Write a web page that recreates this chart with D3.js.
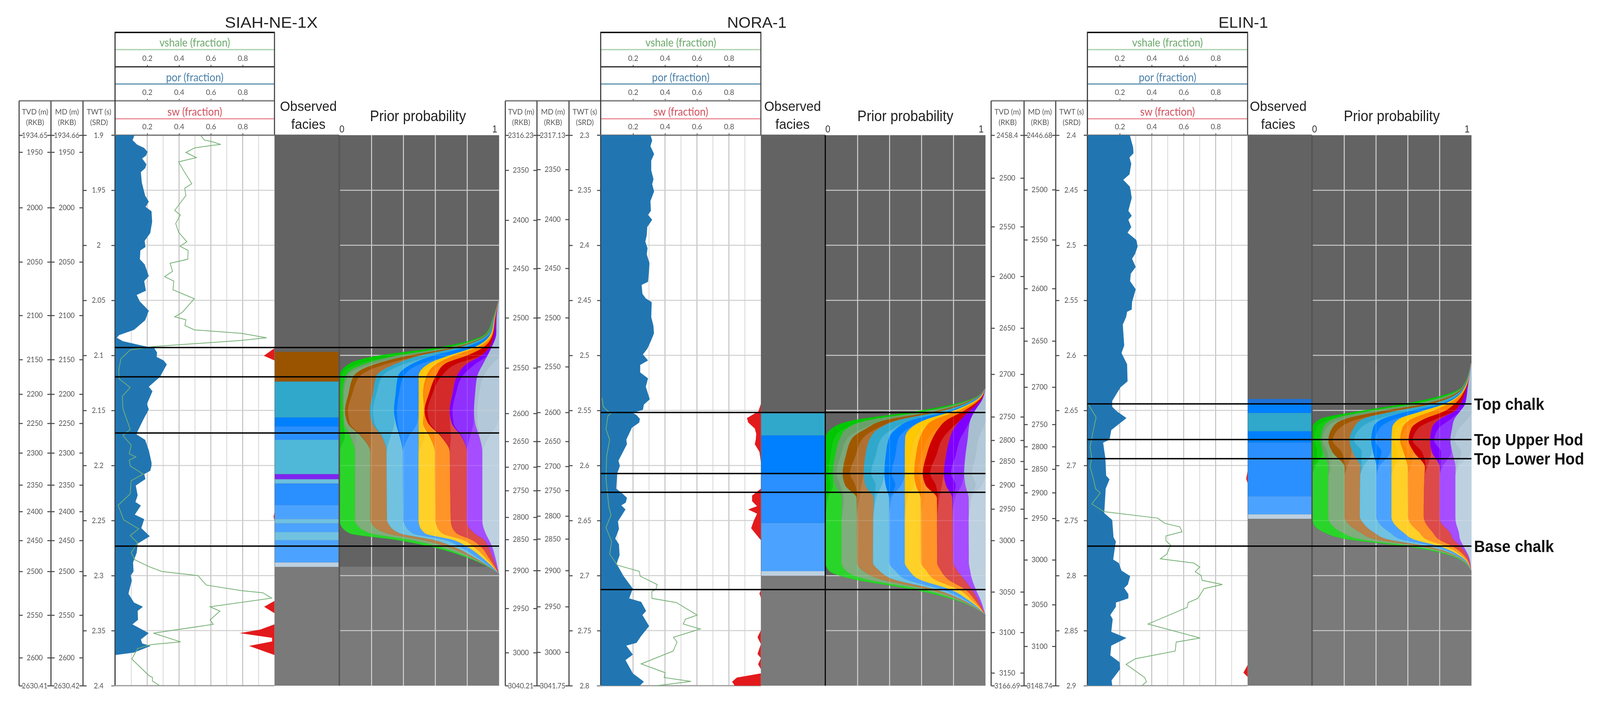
<!DOCTYPE html>
<html>
<head>
<meta charset="utf-8">
<script src="https://cdn.jsdelivr.net/npm/d3@7"></script>
<style>
  html, body { margin: 0; height: 100%; background: #fff; overflow: hidden; }
  svg { display: block; width: 100vw; height: 100vh; filter: blur(0.7px); }
  text { font-family: Lato, sans-serif; }
  .arial { font-family: "Liberation Sans", Arial, sans-serif; }
</style>
</head>
<body>
<svg id="chart" viewBox="0 0 4395 1807" preserveAspectRatio="none"></svg>
<script>
// facies colours, one shade per zone (chalk top, upper hod, lower hod)
const faciesDark  = ['#00c800', '#69a069', '#a05800', '#30a8cc', '#0080ff', '#ffc800', '#ff8400', '#cc0000', '#8000ff', '#a8bfd0']
const faciesMid   = ['#12cc12', '#7aa878', '#b07030', '#4db5d8', '#2a8fff', '#ffc915', '#ff8c10', '#d42a2a', '#9030ff', '#b3c8d8']
const faciesLight = ['#2ad52a', '#7fae7c', '#b8824a', '#70c2e0', '#4ca3ff', '#ffd028', '#ff9428', '#dc4a4a', '#a54dff', '#bdd0e0']

const curveTicks = [0.2, 0.4, 0.6, 0.8]
const curveGrid = [0.1, 0.2, 0.3, 0.4, 0.5, 0.6, 0.7, 0.8, 0.9]
const priorGrid = [0.2, 0.4, 0.6, 0.8]

// ---- SIAH-NE-1X ----
const siahTwtTicks = [1.9, 1.95, 2, 2.05, 2.1, 2.15, 2.2, 2.25, 2.3, 2.35, 2.4]
const siahTvd = [1934.65, 1950, 2000, 2050, 2100, 2150, 2200, 2250, 2300, 2350, 2400, 2450, 2500, 2550, 2600, 2630.41]
const siahTvdTwt = [1.9, 1.9154, 1.9658, 2.0151, 2.0637, 2.1038, 2.1352, 2.1617, 2.1886, 2.2177, 2.2418, 2.2681, 2.2962, 2.3359, 2.3746, 2.4]
const siahMd = [1934.66, 1950, 2000, 2050, 2100, 2150, 2200, 2250, 2300, 2350, 2400, 2450, 2500, 2550, 2600, 2630.42]
const siahTops = [2.0929, 2.1195, 2.1705, 2.2732]
const siahPor = [[1.9,.12],[1.9045,.108],[1.9086,.137],[1.9115,.18],[1.9151,.202],[1.9186,.192],[1.9211,.168],[1.9264,.195],[1.9299,.188],[1.9335,.16],[1.943,.166],[1.9548,.187],[1.9603,.21],[1.9651,.19],[1.9691,.227],[1.9786,.231],[1.9889,.219],[1.996,.184],[2.0016,.189],[2.0047,.157],[2.0127,.154],[2.0174,.184],[2.028,.21],[2.0325,.181],[2.0412,.192],[2.0451,.134],[2.0507,.152],[2.0594,.21],[2.0681,.187],[2.0768,.117],[2.0816,.023],[2.084,.009],[2.0871,.047],[2.0914,.175],[2.0935,.245],[2.0975,.262],[2.1014,.259],[2.1046,.303],[2.1082,.323],[2.1196,.28],[2.1284,.21],[2.1326,.233],[2.1442,.198],[2.149,.21],[2.1585,.175],[2.1688,.14],[2.1719,.134],[2.1767,.187],[2.1862,.21],[2.1973,.227],[2.2004,.227],[2.2048,.219],[2.2078,.181],[2.2123,.189],[2.2182,.128],[2.2271,.14],[2.2331,.126],[2.2364,.16],[2.2447,.122],[2.2487,.181],[2.2569,.163],[2.2643,.216],[2.271,.14],[2.2792,.134],[2.2881,.111],[2.2963,.114],[2.3,.096],[2.3045,.103],[2.3164,.082],[2.3245,.117],[2.3283,.173],[2.332,.14],[2.3402,.142],[2.3443,.107],[2.3523,.21],[2.358,.16],[2.3617,.169],[2.3639,.222],[2.3699,.117],[2.3721,0],[2.4,0]]
const siahVsh = [[1.9,.534],[1.9045,.56],[1.9057,.603],[1.9084,.662],[1.9092,.611],[1.9115,.499],[1.9157,.443],[1.9204,.509],[1.9242,.397],[1.9322,.429],[1.9441,.48],[1.9482,.436],[1.9548,.443],[1.9683,.373],[1.9726,.408],[1.9802,.379],[1.9881,.397],[1.9968,.449],[2.0008,.406],[2.0047,.457],[2.0127,.455],[2.0163,.344],[2.0237,.359],[2.0285,.309],[2.0325,.367],[2.0404,.362],[2.0486,.496],[2.061,.42],[2.065,.373],[2.0676,.443],[2.0729,.437],[2.0768,.496],[2.08,.793],[2.084,.95],[2.0864,.793],[2.0919,.245],[2.0951,.093],[2.103,.035],[2.1133,.021],[2.1212,.023],[2.1292,.093],[2.1371,.044],[2.1482,.047],[2.1672,.093],[2.1727,.047],[2.1815,.099],[2.1894,.087],[2.1922,.128],[2.1952,.087],[2.2004,.093],[2.2078,.175],[2.2138,.099],[2.2257,.093],[2.2361,.017],[2.2494,.052],[2.2576,.146],[2.2636,.093],[2.2703,.14],[2.2792,.099],[2.2856,.122],[2.2918,.21],[2.2963,.292],[2.3,.519],[2.3086,.571],[2.3137,.793],[2.3156,.927],[2.3205,.982],[2.3283,.595],[2.3323,.657],[2.3402,.595],[2.3443,.615],[2.3523,.239],[2.3602,.41],[2.3627,.222],[2.3662,.14],[2.3758,.103],[2.3907,.21],[2.3925,.233],[2.3959,.233],[2.4,.28]]
const siahSw = [[1.9,1],[2.0935,1],[2.1003,.933],[2.1046,1],[2.2427,1],[2.2465,.994],[2.2502,1],[2.323,1],[2.3283,.935],[2.3342,1],[2.3443,1],[2.3491,.91],[2.3523,.781],[2.3565,.985],[2.3598,.985],[2.3639,.84],[2.3721,1],[2.4,1]]
const siahFaciesTwt = [2.0968, 2.1238, 2.1564, 2.1646, 2.1767, 2.2079, 2.2125, 2.2164, 2.236, 2.2487, 2.2526, 2.2605, 2.2679, 2.2881, 2.2921]
const siahFaciesCol = ['#9a5400', '#30a8cc', '#0080ff', '#2a8fff', '#4fb7d8', '#7f24f0', '#6cc0dd', '#2a8fff', '#4ca3ff', '#70c2e0', '#4ca3ff', '#70c2e0', '#4ca3ff', '#bdd0e0']
const siahPriorTwt = [2.0504, 2.0677, 2.08, 2.0932, 2.1004, 2.1075, 2.1187, 2.135, 2.1503, 2.1615, 2.1737, 2.188, 2.2491, 2.2532, 2.2614, 2.2675, 2.2736, 2.2838, 2.298]
// left edge of the stack, then the left edge of each following facies
const siahPriorEdges = [
  [.996,.996,.997,.997,.998,.998,.998,.999,.999,.999],
  [.957,.959,.962,.964,.967,.969,.972,.974,.978,.984],
  [.916,.922,.927,.932,.942,.949,.957,.962,.969,.983],
  [.601,.662,.703,.733,.774,.835,.855,.896,.937,.952],
  [.234,.356,.428,.499,.58,.682,.713,.794,.886,.927],
  [.061,.163,.234,.356,.458,.56,.611,.662,.799,.901],
  [0,.038,.089,.231,.367,.496,.545,.604,.736,.864],
  [0,.02,.056,.209,.351,.496,.524,.56,.708,.85],
  [0,.022,.034,.19,.341,.496,.53,.533,.69,.843],
  [0,.027,.051,.206,.353,.496,.524,.555,.703,.85],
  [0,.066,.137,.265,.377,.496,.565,.636,.764,.876],
  [0,.097,.193,.295,.397,.496,.598,.692,.799,.896],
  [0,.097,.193,.298,.4,.496,.601,.698,.799,.896],
  [.005,.107,.204,.308,.409,.499,.606,.701,.802,.898],
  [.061,.193,.295,.377,.458,.535,.642,.733,.845,.916],
  [.356,.448,.519,.591,.662,.713,.774,.83,.906,.937],
  [.57,.621,.672,.713,.754,.799,.84,.886,.932,.957],
  [.804,.82,.835,.85,.868,.896,.916,.937,.962,.978],
  [.998,.998,.998,.998,.999,.999,.999,.999,.999,.999]
]
const siahDarkShare = [1, 1, 1, 1, 1, .55, .28, .15, .12, .08, .03, 0, 0, 0, 0, 0, 0, 0, 0]
const siahMidShare  = [0, 0, 0, 0, 0, .45, .72, .85, .88, .85, .45, 0, 0, 0, 0, 0, 0, 0, 0]

// ---- NORA-1 ----
const noraTwtTicks = [2.3, 2.35, 2.4, 2.45, 2.5, 2.55, 2.6, 2.65, 2.7, 2.75, 2.8]
const noraTvd = [2316.23, 2350, 2400, 2450, 2500, 2550, 2600, 2650, 2700, 2750, 2800, 2850, 2900, 2950, 3000, 3040.21]
const noraTvdTwt = [2.3, 2.3318, 2.3772, 2.4212, 2.4659, 2.5114, 2.5527, 2.5781, 2.6014, 2.6228, 2.647, 2.6672, 2.6954, 2.7298, 2.77, 2.8]
const noraMd = [2317.13, 2350, 2400, 2450, 2500, 2550, 2600, 2650, 2700, 2750, 2800, 2850, 2900, 2950, 3000, 3041.75]
const noraMdTwt = [2.3, 2.3311, 2.3765, 2.4209, 2.4658, 2.5103, 2.5518, 2.5781, 2.6008, 2.6227, 2.6459, 2.6667, 2.6954, 2.7282, 2.7696, 2.8]
const noraTops = [2.5519, 2.6073, 2.6243, 2.7127]
const noraPor = [[2.3,.309],[2.3047,.32],[2.3099,.309],[2.3172,.332],[2.3231,.314],[2.3319,.314],[2.34,.328],[2.3445,.32],[2.3511,.332],[2.3599,.309],[2.3687,.312],[2.3724,.294],[2.3768,.32],[2.3835,.289],[2.3908,.286],[2.3967,.277],[2.4026,.291],[2.4081,.286],[2.4163,.303],[2.4285,.297],[2.4332,.294],[2.436,.254],[2.4441,.259],[2.4482,.28],[2.4516,.317],[2.4652,.314],[2.4733,.328],[2.4801,.331],[2.4862,.314],[2.4937,.291],[2.4992,.262],[2.5046,.294],[2.5087,.245],[2.5155,.245],[2.5209,.294],[2.5284,.28],[2.5399,.305],[2.5447,.268],[2.5494,.262],[2.5522,.199],[2.5542,.222],[2.5576,.243],[2.561,.239],[2.5657,.193],[2.5766,.158],[2.5807,.162],[2.5956,.109],[2.6004,.118],[2.6073,.101],[2.6211,.095],[2.6249,.129],[2.6293,.162],[2.6337,.155],[2.6362,.127],[2.64,.153],[2.6507,.106],[2.6577,.112],[2.6665,.089],[2.6715,.112],[2.6816,.116],[2.6892,.097],[2.7005,.141],[2.7119,.199],[2.7207,.176],[2.7239,.251],[2.7321,.282],[2.7359,.259],[2.7459,.301],[2.7548,.251],[2.7611,.222],[2.7636,.158],[2.7718,.199],[2.7768,.153],[2.7888,.199],[2.7964,.268],[2.8,.243]]
const noraVsh = [[2.5386,.006],[2.5467,.014],[2.5528,.06],[2.5549,.043],[2.5671,.031],[2.5766,.054],[2.5916,.035],[2.612,.031],[2.6211,.037],[2.6375,.049],[2.6451,.062],[2.6564,.031],[2.669,.066],[2.6804,.054],[2.6905,.101],[2.6961,.239],[2.7005,.245],[2.7081,.351],[2.7125,.343],[2.7144,.318],[2.7207,.318],[2.7245,.471],[2.7359,.601],[2.7396,.528],[2.744,.514],[2.7485,.621],[2.756,.453],[2.7604,.476],[2.7686,.451],[2.7802,.251],[2.7882,.401],[2.7926,.395],[2.7961,.563],[2.8,.349]]
const noraSw = [[2.3,1],[2.544,1],[2.5508,.985],[2.5569,.913],[2.561,.921],[2.5664,.962],[2.5712,.971],[2.5766,.968],[2.5807,.962],[2.5875,.991],[2.597,1],[2.6211,1],[2.6274,.945],[2.6324,.945],[2.6369,.976],[2.64,.921],[2.6438,.976],[2.6501,.956],[2.657,.939],[2.6678,1],[2.7131,1],[2.7163,.991],[2.7201,1],[2.7497,1],[2.756,.979],[2.7623,1],[2.7712,.979],[2.7749,1],[2.7806,.983],[2.785,1],[2.7888,1],[2.7926,.85],[2.7964,.82],[2.8,.836]]
const noraFaciesTwt = [2.5526, 2.5727, 2.6071, 2.6523, 2.696, 2.7001]
const noraFaciesCol = ['#30a8cc', '#0080ff', '#2a8fff', '#4ca3ff', '#bdd0e0']
const noraPriorTwt = [2.5303, 2.5394, 2.5512, 2.5587, 2.5673, 2.5749, 2.591, 2.6072, 2.6179, 2.6298, 2.6513, 2.6879, 2.6954, 2.7029, 2.7126, 2.7223, 2.7352]
const noraPriorEdges = [
  [.996,.996,.997,.997,.998,.998,.998,.999,.999,.999],
  [.916,.922,.929,.936,.944,.952,.96,.968,.976,.983],
  [.549,.61,.671,.712,.753,.783,.814,.855,.895,.931],
  [.183,.275,.376,.458,.539,.621,.676,.758,.844,.906],
  [.031,.127,.244,.326,.437,.524,.615,.702,.799,.895],
  [0,.092,.168,.28,.397,.498,.59,.671,.778,.89],
  [0,.061,.127,.249,.376,.496,.565,.631,.753,.875],
  [0,.046,.107,.239,.368,.496,.554,.608,.74,.867],
  [0,.059,.122,.249,.376,.496,.565,.626,.753,.875],
  [0,.102,.195,.3,.397,.496,.595,.697,.793,.895],
  [0,.1,.197,.298,.398,.496,.597,.698,.796,.896],
  [0,.1,.198,.297,.399,.496,.598,.699,.799,.897],
  [.02,.127,.234,.336,.437,.524,.631,.722,.824,.905],
  [.163,.244,.336,.417,.498,.58,.676,.763,.865,.916],
  [.549,.61,.651,.692,.732,.783,.834,.875,.916,.941],
  [.814,.829,.844,.86,.875,.895,.916,.936,.956,.971],
  [.998,.998,.998,.998,.999,.999,.999,.999,.999,.999]
]
const noraDarkShare = [1, 1, 1, 1, .8, .6, .5, .35, .5, .05, 0, 0, 0, 0, 0, 0, 0]
const noraMidShare  = [0, 0, 0, 0, .2, .4, .5, .65, .3, .1, 0, 0, 0, 0, 0, 0, 0]

// ---- ELIN-1 ----
const elinTwtTicks = [2.4, 2.45, 2.5, 2.55, 2.6, 2.65, 2.7, 2.75, 2.8, 2.85, 2.9]
const elinTvd = [2458.4, 2500, 2550, 2600, 2650, 2700, 2750, 2800, 2850, 2900, 2950, 3000, 3050, 3100, 3150, 3166.69]
const elinTvdTwt = [2.4, 2.4389, 2.4831, 2.5282, 2.5752, 2.6171, 2.6558, 2.6771, 2.6962, 2.7179, 2.7395, 2.7681, 2.8148, 2.8516, 2.8884, 2.9]
const elinMd = [2446.68, 2500, 2550, 2600, 2650, 2700, 2750, 2800, 2850, 2900, 2950, 3000, 3050, 3100, 3148.74]
const elinMdTwt = [2.4, 2.4495, 2.495, 2.5393, 2.5869, 2.6288, 2.6627, 2.6829, 2.7033, 2.7247, 2.748, 2.7857, 2.8264, 2.8642, 2.9]
const elinTops = [2.6441, 2.6764, 2.6938, 2.7732]
const elinPor = [[2.4,.263],[2.4113,.284],[2.4165,.286],[2.4202,.261],[2.4261,.272],[2.4356,.261],[2.4405,.222],[2.4467,.263],[2.4511,.269],[2.457,.275],[2.4687,.254],[2.4732,.275],[2.4768,.254],[2.4835,.272],[2.4886,.249],[2.4952,.304],[2.5011,.312],[2.5081,.295],[2.5122,.277],[2.5197,.3],[2.5258,.269],[2.5326,.265],[2.54,.3],[2.5516,.277],[2.5584,.275],[2.5604,.246],[2.5652,.24],[2.572,.219],[2.591,.228],[2.5978,.211],[2.608,.246],[2.6236,.249],[2.629,.205],[2.6413,.153],[2.6467,.153],[2.6508,.182],[2.6569,.242],[2.6678,.147],[2.6766,.136],[2.6793,.095],[2.6929,.11],[2.7092,.115],[2.7126,.136],[2.7211,.112],[2.7337,.107],[2.7432,.103],[2.7495,.153],[2.7652,.161],[2.769,.176],[2.7741,.17],[2.7854,.159],[2.7886,.194],[2.7955,.211],[2.8005,.265],[2.8081,.251],[2.8113,.228],[2.8169,.254],[2.8207,.254],[2.8245,.176],[2.8283,.176],[2.8358,.141],[2.8396,.156],[2.851,.147],[2.8567,.242],[2.8636,.147],[2.8724,.141],[2.8787,.199],[2.885,.202],[2.8951,.149],[2.9,.153]]
const elinVsh = [[2.6447,.005],[2.6562,.052],[2.6685,.034],[2.6834,.014],[2.6929,.025],[2.7011,.014],[2.7133,.037],[2.7211,.049],[2.7249,.078],[2.735,.025],[2.7419,.101],[2.7478,.437],[2.7526,.483],[2.7558,.576],[2.7602,.59],[2.764,.489],[2.7684,.489],[2.7722,.518],[2.7804,.495],[2.7848,.454],[2.7886,.663],[2.7923,.701],[2.7964,.672],[2.7999,.709],[2.8043,.715],[2.8081,.842],[2.8119,.727],[2.8207,.689],[2.8245,.628],[2.8289,.622],[2.844,.377],[2.8567,.703],[2.8604,.553],[2.8686,.547],[2.8755,.298],[2.8806,.24],[2.8926,.356],[2.8964,.367],[2.9,.339]]
const elinSw = [[2.4,1],[2.7052,1],[2.712,.991],[2.716,1],[2.8812,1],[2.8882,.974],[2.892,1],[2.9,1]]
const elinFaciesTwt = [2.6396, 2.6441, 2.6524, 2.6689, 2.6792, 2.728, 2.7444, 2.7484]
const elinFaciesCol = ['#1c72d8', '#0080ff', '#30a8cc', '#0080ff', '#2a8fff', '#4ca3ff', '#bdd0e0']
const elinPriorTwt = [2.6076, 2.6283, 2.6442, 2.6508, 2.6579, 2.666, 2.6773, 2.6875, 2.7017, 2.71, 2.7465, 2.7516, 2.7608, 2.7669, 2.773, 2.7832, 2.7955]
const elinPriorEdges = [
  [.996,.996,.997,.997,.998,.998,.998,.999,.999,.999],
  [.943,.946,.95,.954,.959,.961,.966,.968,.973,.978],
  [.573,.637,.701,.751,.801,.829,.851,.893,.929,.96],
  [.289,.353,.431,.516,.602,.687,.751,.829,.893,.929],
  [.047,.132,.203,.317,.438,.545,.623,.701,.801,.893],
  [0,.068,.125,.26,.381,.502,.566,.623,.751,.879],
  [0,.054,.101,.235,.37,.498,.552,.605,.74,.868],
  [0,.068,.125,.253,.381,.498,.573,.637,.751,.879],
  [0,.101,.203,.303,.403,.498,.599,.708,.801,.9],
  [0,.101,.203,.301,.403,.498,.6,.705,.801,.9],
  [0,.101,.203,.299,.403,.498,.602,.701,.801,.9],
  [.004,.111,.218,.317,.417,.509,.613,.711,.808,.903],
  [.075,.189,.303,.388,.488,.573,.673,.758,.865,.922],
  [.218,.303,.395,.474,.559,.637,.716,.794,.886,.929],
  [.573,.623,.673,.716,.758,.794,.836,.879,.929,.95],
  [.893,.903,.915,.922,.929,.94,.95,.964,.979,.986],
  [.998,.998,.998,.998,.999,.999,.999,.999,.999,.999]
]
const elinDarkShare = [1, 1, 1, 1, .75, .35, .2, .45, .05, 0, 0, 0, 0, 0, 0, 0, 0]
const elinMidShare  = [0, 0, 0, 0, .25, .65, .8, .5, .1, 0, 0, 0, 0, 0, 0, 0, 0]

const formationLabels = ['Top chalk', 'Top Upper Hod', 'Top Lower Hod', 'Base chalk']

// layout of each well panel
const wells = [
  { name: 'SIAH-NE-1X', cx: 745, tw: 255, cols: [52.5, 140, 228, 316], right: 754, facR: 932, priR: 1371, obs: 847, pri: 1148, divider: '#555',
    t0: 1.9, tTicks: siahTwtTicks, tvd: siahTvd, tvdT: siahTvdTwt, md: siahMd, mdT: siahTvdTwt, tops: siahTops, por: siahPor, vsh: siahVsh, sw: siahSw,
    fT: siahFaciesTwt, fC: siahFaciesCol, pT: siahPriorTwt, pE: siahPriorEdges, pD: siahDarkShare, pM: siahMidShare },
  { name: 'NORA-1', cx: 2079, tw: 163, cols: [1388, 1475, 1563, 1650], right: 2090, facR: 2267, priR: 2707, obs: 2177, pri: 2487, divider: '#000',
    t0: 2.3, tTicks: noraTwtTicks, tvd: noraTvd, tvdT: noraTvdTwt, md: noraMd, mdT: noraMdTwt, tops: noraTops, por: noraPor, vsh: noraVsh, sw: noraSw,
    fT: noraFaciesTwt, fC: noraFaciesCol, pT: noraPriorTwt, pE: noraPriorEdges, pD: noraDarkShare, pM: noraMidShare },
  { name: 'ELIN-1', cx: 3415, tw: 136, cols: [2722.5, 2813, 2900, 2987], right: 3427, facR: 3604, priR: 4042, obs: 3511, pri: 3823, divider: '#555',
    t0: 2.4, tTicks: elinTwtTicks, tvd: elinTvd, tvdT: elinTvdTwt, md: elinMd, mdT: elinMdTwt, tops: elinTops, por: elinPor, vsh: elinVsh, sw: elinSw,
    fT: elinFaciesTwt, fC: elinFaciesCol, pT: elinPriorTwt, pE: elinPriorEdges, pD: elinDarkShare, pM: elinMidShare }
]

const svg = d3.select('#chart')
const plotTop = 346, plotBottom = 1755
const headers = [
  { label: 'vshale (fraction)', colour: '#6aa86a', rule: '#a8d0a8', top: 83, textY: 109, ruleY: 127, axisY: 171 },
  { label: 'por (fraction)', colour: '#4a80a8', rule: '#5a8fb0', top: 171, textY: 198, ruleY: 215, axisY: 258 },
  { label: 'sw (fraction)', colour: '#cf4f5c', rule: '#ea8a95', top: 258, textY: 286, ruleY: 304, axisY: 346 }
]

function hline(g, x1, x2, y, colour, w) {
  g.append('line').attr('x1', x1).attr('x2', x2).attr('y1', y).attr('y2', y).attr('stroke', colour).attr('stroke-width', w)
}
function vline(g, x, y1, y2, colour, w) {
  g.append('line').attr('x1', x).attr('x2', x).attr('y1', y1).attr('y2', y2).attr('stroke', colour).attr('stroke-width', w)
}

// depth column: ticks on both side rules and the label centred between
function depthColumn(g, xL, xR, yScale, ticks, fmt) {
  const left = g.append('g').attr('transform', `translate(${xL},0)`)
    .call(d3.axisRight(yScale).tickValues(ticks).tickSize(10).tickFormat(fmt))
  left.select('.domain').remove()
  left.selectAll('line').attr('stroke', '#444').attr('stroke-width', 2.5)
  left.selectAll('text').attr('x', (xR - xL) / 2 - 1).attr('text-anchor', 'middle')
    .attr('font-size', 19).attr('fill', '#555').style('font-family', 'Lato, sans-serif')
  const right = g.append('g').attr('transform', `translate(${xR},0)`)
    .call(d3.axisLeft(yScale).tickValues(ticks).tickSize(10).tickFormat(''))
  right.select('.domain').remove()
  right.selectAll('line').attr('stroke', '#444').attr('stroke-width', 2.5)
}

wells.forEach(w => {
  const g = svg.append('g')
  const y = d3.scaleLinear().domain([w.t0, w.t0 + 0.5]).range([plotTop, plotBottom])
  const [c0, c1, c2, trackL] = w.cols
  const xCurve = d3.scaleLinear().domain([0, 1]).range([trackL + 1, w.right])
  const xPrior = d3.scaleLinear().domain([0, 1]).range([w.facR + 1, w.priR])
  const bgSplit = y(w.fT[w.fT.length - 1])

  // well name
  g.append('text').attr('class', 'arial').attr('x', w.cx).attr('y', 71).attr('text-anchor', 'middle')
    .attr('font-size', 38).attr('textLength', w.tw).attr('lengthAdjust', 'spacingAndGlyphs').attr('fill', '#222').text(w.name)

  // curve track grid
  curveGrid.forEach((v, i) => vline(g, xCurve(v), plotTop, plotBottom, i % 2 ? '#bdbdbd' : '#dcdcdc', 2.5))
  w.tTicks.slice(1, -1).forEach(t => hline(g, trackL, w.right, y(t), '#cfcfcf', 2.5))

  // headers
  headers.forEach(h => {
    g.append('text').attr('x', (trackL + w.right) / 2).attr('y', h.textY).attr('dy', '.35em').attr('text-anchor', 'middle')
      .attr('font-size', 28).attr('fill', h.colour).text(h.label)
    hline(g, trackL, w.right, h.ruleY, h.rule, 3)
    const ax = g.append('g').attr('transform', `translate(0,${h.axisY})`)
      .call(d3.axisTop(xCurve).tickValues(curveTicks).tickSize(5).tickFormat(d3.format('.1f')))
    ax.select('.domain').remove()
    ax.selectAll('line').attr('stroke', '#444').attr('stroke-width', 2)
    ax.selectAll('text').attr('font-size', 20).attr('fill', '#555').attr('y', -15).style('font-family', 'Lato, sans-serif')
  })
  hline(g, trackL - 1, w.right + 1, 83, '#000', 3.5)
  hline(g, trackL, w.right, 171, '#222', 3)
  hline(g, c0, w.right, 258, '#8a8a8a', 4)
  vline(g, trackL, 83, plotBottom, '#333', 3)
  vline(g, w.right, 83, plotTop, '#444', 3)

  // depth column headers
  const colHead = [['TVD (m)', '(RKB)', c0, c1], ['MD (m)', '(RKB)', c1, c2], ['TWT (s)', '(SRD)', c2, trackL]]
  colHead.forEach(([a, b, l, r]) => {
    g.append('text').attr('x', (l + r) / 2).attr('y', 286).attr('dy', '.35em').attr('text-anchor', 'middle').attr('font-size', 20).attr('fill', '#555').text(a)
    g.append('text').attr('x', (l + r) / 2).attr('y', 313).attr('dy', '.35em').attr('text-anchor', 'middle').attr('font-size', 20).attr('fill', '#555').text(b)
  })
  ;[c0, c1, c2].forEach(x => vline(g, x, 258, plotBottom, '#444', 3))

  // depth axes: each is piecewise along the time-depth pairs
  const yTvd = d3.scaleLinear().domain(w.tvd).range(w.tvdT.map(y))
  const yMd = d3.scaleLinear().domain(w.md).range(w.mdT.map(y))
  depthColumn(g, c0, c1, yTvd, w.tvd, d => String(d))
  depthColumn(g, c1, c2, yMd, w.md, d => String(d))
  depthColumn(g, c2, trackL, y, w.tTicks, d => String(+d.toFixed(2)))

  // top and bottom rules of the plot
  hline(g, trackL - 9, w.facR, plotTop, '#666', 3)
  hline(g, trackL - 9, w.right, plotBottom, '#999', 3)

  // porosity fill from zero, sw fill back from one
  g.append('path').attr('fill', '#2176b2')
    .attr('d', d3.area().y(d => y(d[0])).x0(xCurve(0)).x1(d => xCurve(d[1]))(w.por))
  g.append('path').attr('fill', '#e31a1c')
    .attr('d', d3.area().y(d => y(d[0])).x0(xCurve(1)).x1(d => xCurve(d[1]))(w.sw))
  g.append('path').attr('fill', 'none').attr('stroke', '#74b074').attr('stroke-width', 2)
    .attr('d', d3.line().y(d => y(d[0])).x(d => xCurve(d[1]))(w.vsh))

  // grey backing of facies and prior panels
  g.append('rect').attr('x', w.right).attr('y', plotTop).attr('width', w.priR - w.right).attr('height', bgSplit - plotTop).attr('fill', '#636363')
  g.append('rect').attr('x', w.right).attr('y', bgSplit).attr('width', w.priR - w.right).attr('height', plotBottom - bgSplit).attr('fill', '#7a7a7a')

  // prior grid under the stack
  priorGrid.forEach(v => vline(g, xPrior(v), plotTop, plotBottom, '#d8d8d8', 2.5))
  w.tTicks.slice(1, -1).forEach(t => hline(g, w.facR, w.priR, y(t), '#c8c8c8', 2.5))

  // prior probability stack: gap + 10 facies split by zone share
  const keys = ['gap']
  const colours = []
  faciesDark.forEach((c, f) => {
    keys.push(`d${f}`, `m${f}`, `l${f}`)
    colours.push(faciesDark[f], faciesMid[f], faciesLight[f])
  })
  const rows = w.pT.map((t, i) => {
    const row = { t, gap: w.pE[i][0] }
    w.pE[i].forEach((e, f) => {
      const width = (f < 9 ? w.pE[i][f + 1] : 1) - e
      row[`d${f}`] = width * w.pD[i]
      row[`m${f}`] = width * w.pM[i]
      row[`l${f}`] = width * (1 - w.pD[i] - w.pM[i])
    })
    return row
  })
  const area = d3.area().y(d => y(d.data.t)).x0(d => xPrior(d[0])).x1(d => xPrior(d[1])).curve(d3.curveMonotoneY)
  const stacked = d3.stack().keys(keys)(rows).slice(1)
  g.append('g').selectAll('path').data(stacked).join('path')
    .attr('fill', (d, i) => colours[i]).attr('stroke', (d, i) => colours[i]).attr('stroke-width', 0.4).attr('d', area)

  // grid shows faintly through the stack
  const ghost = g.append('g').attr('opacity', 0.14)
  priorGrid.forEach(v => vline(ghost, xPrior(v), y(w.pT[0]), y(w.pT[w.pT.length - 1]), '#fff', 2.5))
  w.tTicks.slice(1, -1).filter(t => t > w.pT[0] && t < w.pT[w.pT.length - 1]).forEach(t => hline(ghost, w.facR, w.priR, y(t), '#fff', 2.5))

  // observed facies blocks
  g.append('g').selectAll('rect').data(w.fC).join('rect')
    .attr('x', w.right + 1).attr('width', w.facR - w.right - 3)
    .attr('y', (d, i) => y(w.fT[i])).attr('height', (d, i) => y(w.fT[i + 1]) - y(w.fT[i]))
    .attr('fill', d => d)
  vline(g, w.facR, plotTop, plotBottom, w.divider, w.divider === '#000' ? 3 : 4)

  // panel titles
  g.append('text').attr('class', 'arial').attr('x', w.obs).attr('y', 284).attr('text-anchor', 'middle').attr('font-size', 36).attr('fill', '#222').text('Observed')
  g.append('text').attr('class', 'arial').attr('x', w.obs).attr('y', 330).attr('text-anchor', 'middle').attr('font-size', 36).attr('fill', '#222').text('facies')
  g.append('text').attr('class', 'arial').attr('x', w.pri).attr('y', 310).attr('text-anchor', 'middle').attr('font-size', 38).attr('fill', '#222').text('Prior probability')
  g.append('text').attr('class', 'arial').attr('x', w.facR + 7).attr('y', 339).attr('text-anchor', 'middle').attr('font-size', 25).attr('fill', '#333').text('0')
  g.append('text').attr('class', 'arial').attr('x', w.priR - 12).attr('y', 339).attr('text-anchor', 'middle').attr('font-size', 25).attr('fill', '#333').text('1')

  // formation tops
  w.tops.forEach(t => hline(g, trackL, w.priR, y(t), '#000', 3.5))

  // formation names beside the last well only
  if (w.name === 'ELIN-1') {
    w.tops.forEach((t, i) => {
      g.append('text').attr('class', 'arial').attr('x', w.priR + 7).attr('y', y(t)).attr('dy', '.36em')
        .attr('font-size', 42).attr('font-weight', 'bold').attr('fill', '#111').text(formationLabels[i])
    })
  }
})
</script>
</body>
</html>
